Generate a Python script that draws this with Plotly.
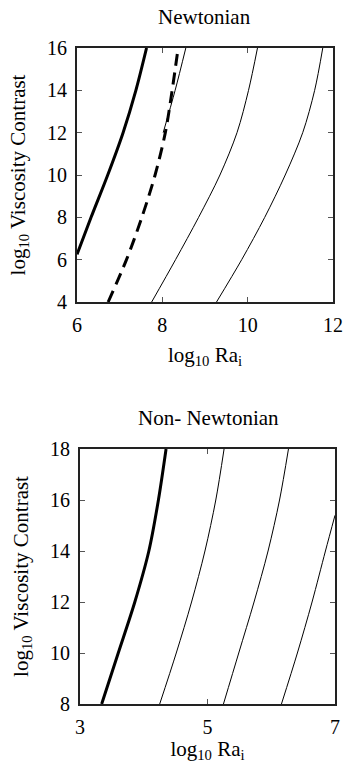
import plotly.graph_objects as go

# ---------------- Newtonian panel (x: log10 Ra_i, y: log10 viscosity contrast)
newt_thick_x = [6.0, 6.33, 6.72, 7.08, 7.38, 7.63]
newt_thick_y = [6.25, 8.0, 10.0, 12.0, 14.0, 16.0]

newt_dash_x = [6.73, 7.16, 7.52, 7.83, 8.07, 8.23, 8.37]
newt_dash_y = [4.0, 6.0, 8.0, 10.0, 12.0, 14.0, 16.0]

newt_short_x = [8.02, 8.30, 8.55]
newt_short_y = [12.0, 14.0, 16.0]

newt_thinA_x = [7.75, 8.31, 8.85, 9.35, 9.75, 10.02, 10.23]
newt_thinA_y = [4.0, 6.0, 8.0, 10.0, 12.0, 14.0, 16.0]

newt_thinB_x = [9.27, 9.86, 10.40, 10.88, 11.29, 11.57, 11.76]
newt_thinB_y = [4.0, 6.0, 8.0, 10.0, 12.0, 14.0, 16.0]

# ---------------- Non-Newtonian panel
nn_thick_x = [3.34, 3.60, 3.86, 4.08, 4.23, 4.35]
nn_thick_y = [8.0, 10.0, 12.0, 14.0, 16.0, 18.0]

nn_thin1_x = [4.25, 4.51, 4.75, 4.96, 5.13, 5.26]
nn_thin1_y = [8.0, 10.0, 12.0, 14.0, 16.0, 18.0]

nn_thin2_x = [5.25, 5.49, 5.73, 5.95, 6.13, 6.27]
nn_thin2_y = [8.0, 10.0, 12.0, 14.0, 16.0, 18.0]

nn_thin3_x = [6.16, 6.41, 6.64, 6.85, 7.0]
nn_thin3_y = [8.0, 10.0, 12.0, 14.0, 15.4]

top_xticks = [6, 8, 10, 12]
top_yticks = [4, 6, 8, 10, 12, 14, 16]
bot_xticks = [3, 5, 7]
bot_yticks = [8, 10, 12, 14, 16, 18]

FONT = "Liberation Serif, Times New Roman, serif"

fig = go.Figure()

def add(x, y, xa, ya, width, dash="solid"):
    fig.add_trace(go.Scatter(
        x=x, y=y, xaxis=xa, yaxis=ya, mode="lines",
        line=dict(color="black", width=width, dash=dash, shape="spline", smoothing=0.9),
        showlegend=False, hoverinfo="skip"))

add(newt_thick_x, newt_thick_y, "x", "y", 3)
add(newt_dash_x, newt_dash_y, "x", "y", 3, "12px,7px")
add(newt_short_x, newt_short_y, "x", "y", 1)
add(newt_thinA_x, newt_thinA_y, "x", "y", 1)
add(newt_thinB_x, newt_thinB_y, "x", "y", 1)

add(nn_thick_x, nn_thick_y, "x2", "y2", 3)
add(nn_thin1_x, nn_thin1_y, "x2", "y2", 1)
add(nn_thin2_x, nn_thin2_y, "x2", "y2", 1)
add(nn_thin3_x, nn_thin3_y, "x2", "y2", 1)

axis_common = dict(
    showgrid=False, zeroline=False, showline=True, linecolor="#222", linewidth=2,
    mirror="ticks", ticks="inside", ticklen=5, tickwidth=1, tickcolor="#555",
    tickfont=dict(family=FONT, size=20, color="black"), automargin=False,
)

W, H = 344, 763
TFONT = dict(family=FONT, size=21, color="black")

fig.update_layout(
    width=W, height=H,
    margin=dict(l=0, r=0, t=0, b=0),
    paper_bgcolor="white", plot_bgcolor="white",
    font=dict(family=FONT, color="black"),
    xaxis=dict(axis_common, domain=[77 / W, 333 / W], range=[6, 12],
               tickvals=top_xticks, anchor="y", ticklabelstandoff=4,
               title=dict(text="log<sub>10</sub> Ra<sub>i</sub>", font=TFONT, standoff=12)),
    yaxis=dict(axis_common, domain=[1 - 302 / H, 1 - 48 / H], range=[4, 16],
               tickvals=top_yticks, anchor="x", ticklabelstandoff=4,
               title=dict(text="log<sub>10</sub> Viscosity Contrast", font=TFONT, standoff=16)),
    xaxis2=dict(axis_common, domain=[80 / W, 335 / W], range=[3, 7],
                tickvals=bot_xticks, anchor="y2", ticklabelstandoff=4,
                title=dict(text="log<sub>10</sub> Ra<sub>i</sub>", font=TFONT, standoff=20)),
    yaxis2=dict(axis_common, domain=[1 - 704 / H, 1 - 449 / H], range=[8, 18],
                tickvals=bot_yticks, anchor="x2", ticklabelstandoff=4,
                title=dict(text="log<sub>10</sub> Viscosity Contrast", font=TFONT, standoff=16)),
    annotations=[
        dict(text="Newtonian", x=205 / W, y=1 - 17 / H, xref="paper", yref="paper",
             showarrow=False, xanchor="center", yanchor="middle", font=TFONT),
        dict(text="Non- Newtonian", x=208 / W, y=1 - 418 / H, xref="paper", yref="paper",
             showarrow=False, xanchor="center", yanchor="middle", font=TFONT),
    ],
)

fig.write_html("out.html", config={"displayModeBar": False},
               post_script="document.body.style.margin='0';document.body.style.overflow='hidden';")
